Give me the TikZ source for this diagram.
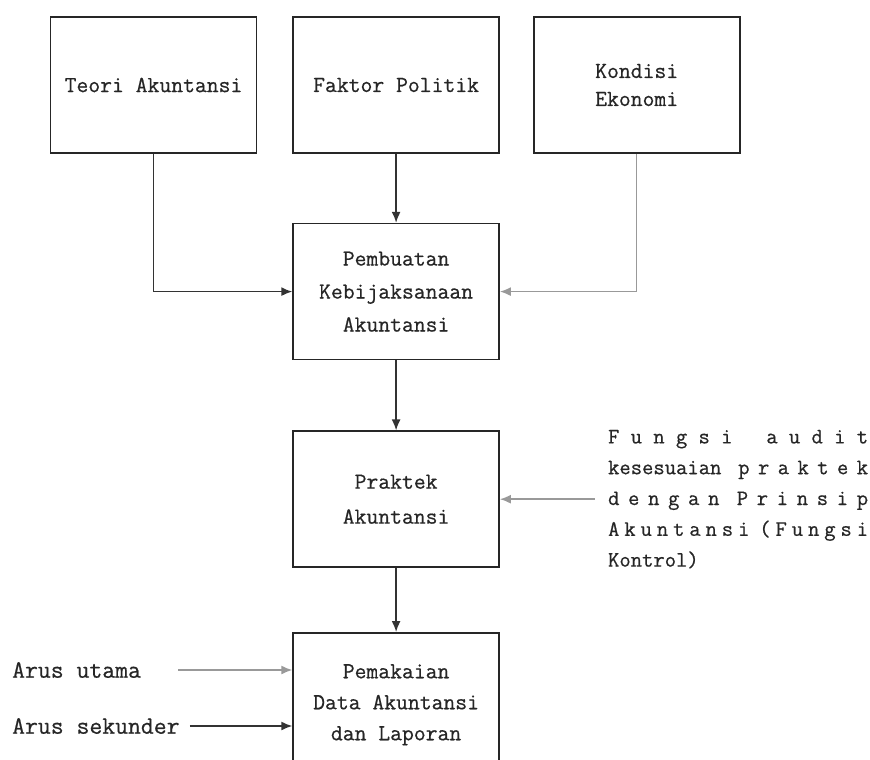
\documentclass[tikz,border=0pt]{standalone}
\usepackage{fontspec}
\newfontfamily\scanfont{Latin Modern Mono}[FakeBold=0.6]
\usetikzlibrary{positioning, arrows.meta}
\newcommand{\spreadline}[1]{\makebox[260pt][s]{#1}}
\tikzset{
>={Latex[length=11pt,width=9pt]}, % filled heads like the scan
node distance=34pt, % gap between the boxes
box/.style={draw=black!85, line width=1.6pt, minimum width=206pt, minimum height=136pt, align=center, text=black!85, font={\scanfont\fontsize{23}{31}\selectfont}}, % the six blocks
flow/.style={->, line width=1.5pt, draw=black!80}, % main connectors
faint/.style={flow, draw=black!40}, % lighter connectors
lbl/.style={inner sep=0pt, text=black!85, font={\scanfont\fontsize{25}{31}\selectfont}},
notes/.style={inner xsep=13pt, inner ysep=0pt, text width=260pt, align=left, text=black!85, font={\scanfont\fontsize{22}{30.8}\selectfont}},
}

\begin{document}
\begin{tikzpicture}[x=1pt, y=1pt]
            \clip (0,0) rectangle (870,-760);
            \fill[white] (0,0) rectangle (870,-760);
            % top row
            \node[box] (teori) at (153.5,-85) {Teori Akuntansi};
            \node[box, right=35pt of teori] (politik) {Faktor Politik};
            \node[box, right=33pt of politik] (ekonomi) {Kondisi\\[-3pt]Ekonomi};
            % middle column
            \node[box, below=69pt of politik] (buat) {Pembuatan\\[2pt]Kebijaksanaan\\[2pt]Akuntansi};
            \node[box, below=70pt of buat] (praktek) {Praktek\\[4pt]Akuntansi};
            \node[box, below=64pt of praktek, minimum height=144pt] (pakai) {Pemakaian\\Data Akuntansi\\dan Laporan};
            % side texts
            \node[notes, right=95pt of praktek] (audit) {%
                \spreadline{F\hfil u\hfil n\hfil g\hfil s\hfil i\hfil\hfil\hfil a\hfil u\hfil d\hfil i\hfil t}\\
                \spreadline{kesesuaian\hfil\hfil p\hfil r\hfil a\hfil k\hfil t\hfil e\hfil k}\\
                \spreadline{d\hfil e\hfil n\hfil g\hfil a\hfil n\hfil\hfil P\hfil r\hfil i\hfil n\hfil s\hfil i\hfil p}\\
                \spreadline{A\hfil k\hfil u\hfil n\hfil t\hfil a\hfil n\hfil s\hfil i\hfil\hfil (\hfil F\hfil u\hfil n\hfil g\hfil s\hfil i}\\
                Kontrol)};
            \node[lbl, anchor=west] (utama) at (12,-670) {Arus utama};
            \node[lbl, anchor=west] (sekunder) at (12,-726) {Arus sekunder};
            \coordinate[right=37pt of utama] (utamatail);
            \coordinate[right=10pt of sekunder] (sekundertail);
            % connectors
            \draw[flow] (teori) |- (buat);
            \draw[flow] (politik) -- (buat);
            \draw[faint] (ekonomi) |- (buat);
            \draw[flow] (buat) -- (praktek);
            \draw[faint] (audit.west) -- (praktek.east);
            \draw[flow] (praktek) -- (pakai);
            \draw[faint] (utamatail) -- (utamatail -| pakai.west);
            \draw[flow] (sekundertail) -- (sekundertail -| pakai.west);
            \end{tikzpicture}
\end{document}
